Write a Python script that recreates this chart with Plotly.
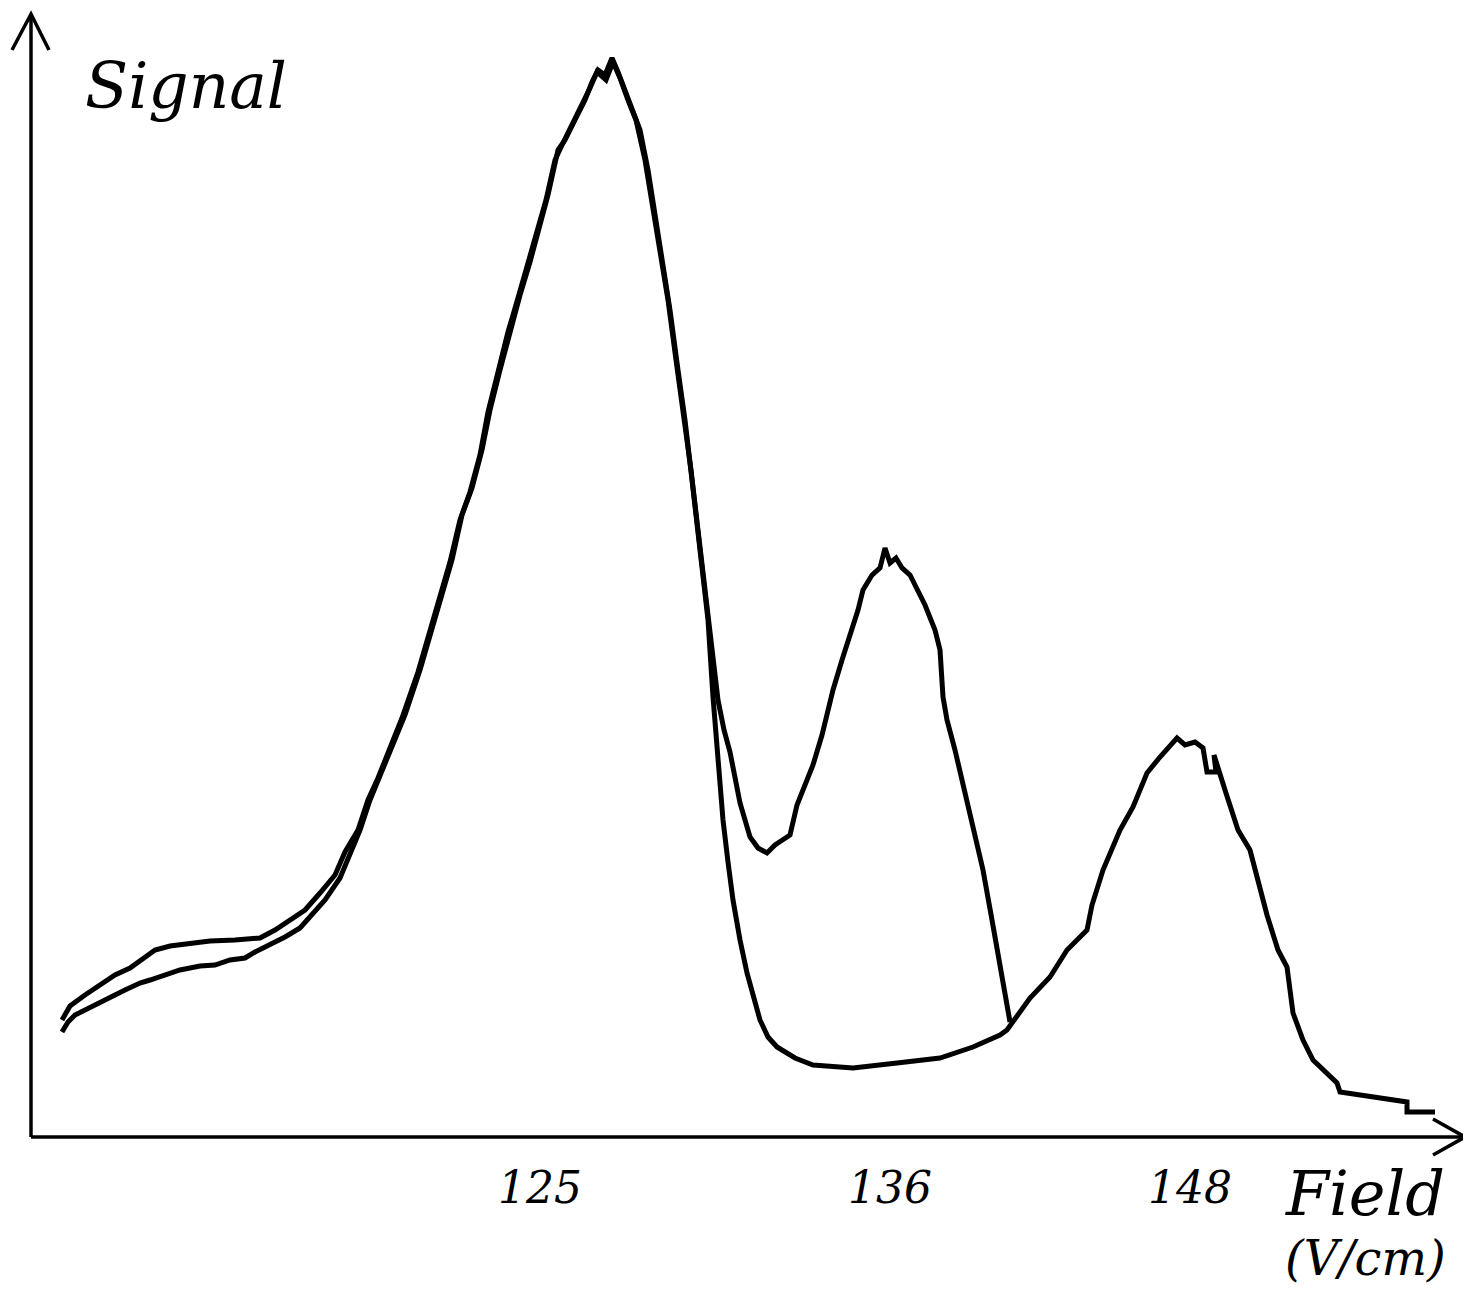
import plotly.graph_objects as go

# scan with the deep valley and the third peak (arbitrary units, origin at axis corner)
scan_a_x = [3.1, 3.7, 4.4, 5.9, 6.9, 8.4, 9.4, 10.9, 11.9, 13.4, 14.9, 16.9, 18.4, 19.9, 21.4,
            22.4, 23.9, 25.4, 26.9, 28.1, 29.4, 30.9, 31.9, 32.9, 33.9, 34.9, 36.1, 37.4, 38.9,
            40.1, 41.1, 42.1, 43.1, 44.1, 45.1, 45.9, 46.9, 47.9, 48.9, 49.9, 50.9, 51.7, 52.7,
            53.4, 54.4, 55.4, 56.1, 56.7, 57.4, 58.1, 58.7, 59.4, 60.1, 60.9, 61.7, 62.4, 63.2,
            63.9, 64.7, 65.4, 66.1, 66.9, 67.7, 68.2, 68.7, 69.2, 69.7, 70.2, 70.9, 71.6, 72.9,
            73.7, 74.6, 76.4, 78.2, 82.2, 86.6, 90.9, 94.2, 96.9, 97.6, 99.9, 101.9, 103.6,
            105.6, 106.1, 107.2, 108.9, 110.2, 111.6, 112.9, 113.7, 114.6, 115.4, 116.4, 117.2,
            117.6, 118.5, 118.3, 119.4, 120.7, 121.9, 122.7, 123.6, 124.7, 125.6, 126.2, 127.2,
            128.2, 129.4, 130.6, 130.9, 132.9, 135.2, 137.6, 137.6, 140.4]
scan_a_y = [10.5, 11.5, 12.2, 12.9, 13.4, 14.2, 14.7, 15.4, 15.7, 16.2, 16.7, 17.1, 17.2, 17.7,
            17.9, 18.5, 19.2, 20.0, 20.9, 22.2, 23.7, 25.9, 28.2, 30.7, 33.7, 36.2, 39.2, 42.2,
            46.7, 50.9, 54.2, 57.7, 62.2, 64.9, 68.7, 72.7, 76.7, 80.7, 84.2, 87.5, 91.2, 94.2,
            98.7, 99.7, 101.7, 103.7, 105.5, 106.7, 106.2, 107.9, 106.5, 104.7, 102.7, 100.7,
            96.7, 92.2, 87.2, 82.7, 76.7, 71.7, 65.7, 59.2, 51.7, 44.0, 37.7, 31.7, 27.5, 23.7,
            19.7, 16.4, 11.7, 10.0, 9.0, 7.9, 7.2, 6.9, 7.4, 7.9, 9.0, 10.2, 10.7, 13.9, 16.0,
            18.7, 20.7, 23.2, 26.7, 30.7, 33.0, 36.4, 38.0, 38.9, 39.9, 39.2, 39.5, 38.9, 36.5,
            36.5, 38.2, 34.7, 30.7, 28.7, 25.7, 22.2, 18.7, 17.0, 12.4, 9.7, 7.7, 6.5, 5.4, 4.5,
            4.2, 3.9, 3.5, 2.5, 2.5]

# scan with the shallow valley and the second peak
scan_b_x = [3.1, 3.9, 5.4, 6.9, 8.4, 9.9, 11.4, 12.4, 13.9, 15.9, 17.9, 20.4, 22.9, 24.4, 25.9,
            27.4, 28.9, 30.4, 31.4, 32.7, 33.7, 34.7, 35.9, 37.1, 38.7, 39.9, 40.9, 41.9, 42.9,
            43.9, 44.9, 45.7, 46.7, 47.7, 48.7, 49.7, 50.7, 51.5, 52.4, 53.1, 54.1, 55.1, 55.9,
            56.6, 57.5, 58.2, 58.9, 59.7, 60.5, 61.4, 62.1, 62.9, 63.7, 64.5, 65.3, 66.0, 66.7,
            67.4, 68.1, 68.7, 69.3, 69.9, 70.9, 71.9, 72.7, 73.6, 74.4, 75.9, 76.6, 77.4, 78.2,
            79.1, 80.2, 81.1, 81.9, 82.7, 83.2, 84.1, 84.9, 85.4, 85.9, 86.5, 87.1, 87.9, 88.4,
            89.4, 90.4, 90.9, 91.2, 91.6, 92.4, 93.2, 94.1, 95.2, 96.1, 96.9, 97.4, 97.9]
scan_b_y = [11.7, 13.1, 14.2, 15.2, 16.2, 16.9, 17.9, 18.7, 19.1, 19.4, 19.6, 19.7, 19.9, 20.7,
            21.7, 22.7, 24.4, 26.2, 28.5, 30.7, 33.7, 35.9, 38.9, 41.9, 46.5, 50.5, 53.9, 57.5,
            61.7, 64.5, 68.2, 72.5, 76.5, 80.5, 83.9, 87.2, 90.9, 93.7, 97.7, 99.2, 101.2, 103.2,
            104.9, 106.5, 105.7, 107.5, 105.9, 103.7, 101.7, 97.7, 93.2, 88.7, 83.7, 77.7, 72.2,
            66.7, 60.7, 54.7, 48.7, 43.7, 40.7, 38.5, 33.4, 30.0, 28.9, 28.4, 29.2, 30.2, 33.2,
            35.2, 37.2, 40.2, 44.7, 47.7, 50.2, 52.7, 54.7, 56.2, 56.9, 58.9, 57.4, 57.9, 56.9,
            56.2, 55.2, 53.2, 50.7, 48.7, 44.0, 41.7, 38.7, 35.4, 31.2, 26.7, 21.7, 17.2, 14.2,
            11.5]

tick_pos = [50.9, 85.9, 115.9]
tick_text = ["125", "136", "148"]

font_family = "DejaVu Serif"

fig = go.Figure()
for xs, ys in [(scan_a_x, scan_a_y), (scan_b_x, scan_b_y)]:
    fig.add_trace(go.Scatter(x=xs, y=ys, mode="lines",
                             line=dict(color="black", width=5), showlegend=False,
                             hoverinfo="skip"))

# axes with open arrow heads
axis_style = dict(color="black", width=3.5)
fig.add_shape(type="line", x0=0, y0=0, x1=143.4, y1=0, line=axis_style)
fig.add_shape(type="line", x0=0, y0=0, x1=0, y1=112.3, line=axis_style)
fig.add_shape(type="path", path="M 140.2,1.8 L 143.4,0 L 140.2,-1.8", line=axis_style)
fig.add_shape(type="path", path="M -1.9,108.7 L 0,112.3 L 1.8,108.7", line=axis_style)

for pos, txt in zip(tick_pos, tick_text):
    fig.add_annotation(x=pos, y=-5.0, text=txt, showarrow=False, xanchor="center",
                       yanchor="middle",
                       font=dict(family=font_family, size=44, color="black", style="italic"))

fig.add_annotation(x=5.2, y=105.1, text="Signal", showarrow=False, xanchor="left",
                   yanchor="middle",
                   font=dict(family=font_family, size=63, color="black", style="italic"))
fig.add_annotation(x=125.2, y=-5.6, text="Field", showarrow=False, xanchor="left",
                   yanchor="middle",
                   font=dict(family=font_family, size=62, color="black", style="italic"))
fig.add_annotation(x=125.2, y=-12.1, text="(V/cm)", showarrow=False, xanchor="left",
                   yanchor="middle",
                   font=dict(family=font_family, size=48, color="black", style="italic"))

# page body keeps an 8px margin, so the figure is 8px smaller and everything sits 8px up/left
fig.update_layout(
    width=1463, height=1281,
    margin=dict(l=0, r=0, t=0, b=0),
    paper_bgcolor="white", plot_bgcolor="white",
    xaxis=dict(range=[-2.3, 144.0], visible=False, showgrid=False, zeroline=False),
    yaxis=dict(range=[-15.2, 112.9], visible=False, showgrid=False, zeroline=False),
)

fig.write_html("out.html")
